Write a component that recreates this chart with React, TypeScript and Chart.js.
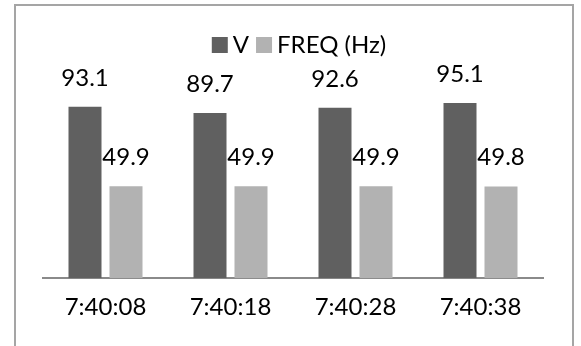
import React, { useEffect, useRef } from "react";
import { Chart, registerables } from "chart.js";

Chart.register(...registerables);

// Sample times and readings
const times = ["7:40:08", "7:40:18", "7:40:28", "7:40:38"];
const voltage = [93.1, 89.7, 92.6, 95.1];
const frequency = [49.9, 49.9, 49.9, 49.8];
const seriesNames = ["V", "FREQ (Hz)"];
const seriesColors = ["#606060", "#b2b2b2"];

const FONT = "Lato, 'DejaVu Sans', sans-serif";

// Value printed above every bar
const valueLabels = {
  id: "valueLabels",
  afterDatasetsDraw(chart: any) {
    const ctx = chart.ctx;
    ctx.save();
    ctx.font = `24px ${FONT}`;
    ctx.fillStyle = "#000";
    ctx.textAlign = "center";
    ctx.textBaseline = "alphabetic";
    chart.data.datasets.forEach((ds: any, i: number) => {
      const meta = chart.getDatasetMeta(i);
      meta.data.forEach((el: any, j: number) => {
        ctx.fillText(Number(ds.data[j]).toFixed(1), el.x, el.y - 21);
      });
    });
    ctx.restore();
  },
};

// Compact legend row: square swatch followed by the series name
const legendRow = {
  id: "legendRow",
  afterDraw(chart: any) {
    const ctx = chart.ctx;
    const box = 16;
    const gapText = 5;
    const gapItem = 7;
    const centerX = 299;
    const boxTop = 37;
    const baseline = 53;
    ctx.save();
    ctx.font = `24px ${FONT}`;
    ctx.textBaseline = "alphabetic";
    ctx.textAlign = "left";
    const items = chart.data.datasets.map((ds: any) => ({
      text: ds.label as string,
      color: ds.backgroundColor as string,
      w: ctx.measureText(ds.label).width,
    }));
    const total =
      items.reduce((s: number, it: any) => s + box + gapText + it.w, 0) +
      gapItem * (items.length - 1);
    let x = centerX - total / 2;
    items.forEach((it: any) => {
      ctx.fillStyle = it.color;
      ctx.fillRect(x, boxTop, box, box);
      x += box + gapText;
      ctx.fillStyle = "#000";
      ctx.fillText(it.text, x, baseline);
      x += it.w + gapItem;
    });
    ctx.restore();
  },
};

export default function App() {
  const canvasRef = useRef<HTMLCanvasElement | null>(null);

  useEffect(() => {
    if (!canvasRef.current) return;
    const chart = new Chart(canvasRef.current, {
      type: "bar",
      data: {
        labels: times,
        datasets: [
          {
            label: seriesNames[0],
            data: voltage,
            backgroundColor: seriesColors[0],
            barPercentage: 0.805,
            categoryPercentage: 0.656,
          },
          {
            label: seriesNames[1],
            data: frequency,
            backgroundColor: seriesColors[1],
            barPercentage: 0.805,
            categoryPercentage: 0.656,
          },
        ],
      },
      options: {
        responsive: false,
        animation: false,
        layout: { padding: { top: 94, left: 43, right: 38, bottom: 9 } },
        plugins: {
          legend: { display: false },
          tooltip: { enabled: false },
        },
        scales: {
          x: {
            grid: { display: false, drawTicks: false },
            border: { display: true, color: "#8a8a8a", width: 2 },
            ticks: {
              color: "#000",
              font: { family: FONT, size: 24 },
              padding: 15,
              maxRotation: 0,
            },
          },
          y: {
            display: false,
            min: 0,
            max: 100,
          },
        },
      },
      plugins: [valueLabels, legendRow],
    });
    return () => chart.destroy();
  }, []);

  return (
    <div
      style={{
        position: "fixed",
        left: 0,
        top: 0,
        width: 581,
        height: 346,
        overflow: "hidden",
        background: "#fff",
      }}
    >
      <div
        style={{
          position: "absolute",
          left: 14,
          top: 4,
          width: 556,
          height: 400,
          border: "2px solid #a5a5a5",
          borderBottom: "none",
        }}
      />
      <canvas
        ref={canvasRef}
        width={581}
        height={346}
        style={{ position: "absolute", left: 0, top: 0, width: 581, height: 346 }}
      />
    </div>
  );
}
